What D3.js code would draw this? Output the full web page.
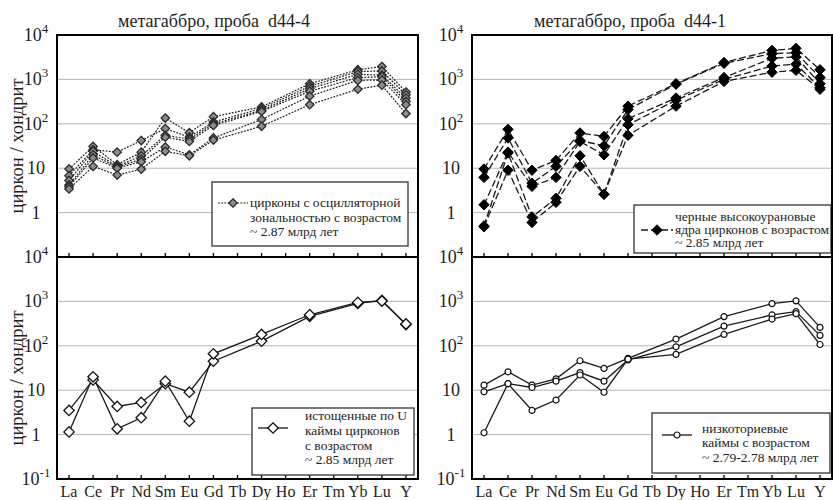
<!DOCTYPE html>
<html>
<head>
<meta charset="utf-8">
<script src="https://cdn.jsdelivr.net/npm/d3@7"></script>
<style>
  body { margin: 0; background: #fff; }
</style>
</head>
<body>
<div id="chart"></div>
<script>
// REE spectra of zircon, normalised to chondrite
var elements = ["La", "Ce", "Pr", "Nd", "Sm", "Eu", "Gd", "Tb", "Dy", "Ho", "Er", "Tm", "Yb", "Lu", "Y"];

// null = not analysed (Tb, Ho, Tm)
var oscillatory = [
  [9.6, 31, 12, 23, 135, 63, 145, null, 240, null, 800, null, 1650, 1950, 520],
  [6.8, 26, 23, 42, 78, 50, 110, null, 220, null, 700, null, 1500, 1550, 450],
  [5.3, 24, 11, 19, 55, 45, 100, null, 200, null, 620, null, 1300, 1250, 380],
  [4.2, 20, 10.5, 16, 50, 40, 92, null, 190, null, 540, null, 1100, 1150, 320],
  [3.8, 17, 10, 14, 30, 20, 48, null, 125, null, 420, null, 950, 970, 270],
  [3.4, 11, 7, 9.5, 24, 19, 43, null, 88, null, 270, null, 600, 740, 170]
];

var highUCores = [
  [9.6, 75, 9, 15, 62, 52, 250, null, 800, null, 2400, null, 4500, 5000, 1650],
  [6.2, 48, 4.6, 11, 42, 32, 210, null, 780, null, 2300, null, 3800, 4000, 1100],
  [1.5, 23, 3.9, 6.2, 40, 20, 130, null, 380, null, 1100, null, 3000, 3200, 800],
  [0.5, 22, 0.8, 2.1, 19, 2.6, 95, null, 340, null, 1000, null, 2000, 2200, 650],
  [0.48, 9, 0.6, 1.7, 11, 2.6, 55, null, 250, null, 900, null, 1450, 1600, 600]
];

var depletedRims = [
  [3.5, 17, 4.3, 5.3, 14, 9, 45, null, 127, null, 460, null, 900, 1050, 300],
  [1.15, 20, 1.35, 2.4, 16, 2, 66, null, 180, null, 500, null, 950, 1020, 310]
];

var lowThRims = [
  [13, 26, 13, 18, 46, 31, 52, null, 142, null, 455, null, 890, 1030, 260],
  [9.2, 14, 11.5, 16, 25, 16, 48, null, 95, null, 278, null, 495, 590, 172],
  [1.1, 14, 3.5, 6, 22, 9, 50, null, 64, null, 180, null, 400, 530, 107]
];

var yTicks = [1e4, 1e3, 1e2, 10, 1, 0.1];
var gridValues = [1e3, 1e2, 10, 1];

var width = 833, height = 500;

var svg = d3.select("#chart").append("svg")
  .attr("width", width)
  .attr("height", height);

// every text gets the serif face set on itself
function addText(parent, size) {
  return parent.append("text")
    .style("font-family", "'Liberation Serif'")
    .style("font-size", size + "px")
    .style("fill", "#1e1e1e");
}

var panels = [
  { x0: 57, x1: 418, y0: 35, y1: 257, data: oscillatory, kind: "oscill",
    title: "метагаббро, проба  d44-4", titleX: 214, yTitle: true, bottomLabels: false, showLowest: false,
    legend: { box: [212, 182, 408, 246], sx: [218, 248], sy: 203, tx: 250, ty: [207, 222, 236],
      lines: ["цирконы с осцилляторной", "зональностью с возрастом", "~ 2.87 млрд лет"] } },
  { x0: 472, x1: 832, y0: 35, y1: 257, data: highUCores, kind: "cores",
    title: "метагаббро, проба  d44-1", titleX: 630, yTitle: false, bottomLabels: false, showLowest: false,
    legend: { box: [634, 205, 831, 253], sx: [641, 673], sy: 230, tx: 675, ty: [221, 234, 247],
      lines: ["черные высокоурановые", "ядра цирконов с возрастом", "~ 2.85 млрд лет"] } },
  { x0: 57, x1: 418, y0: 257, y1: 479, data: depletedRims, kind: "depleted",
    yTitle: true, bottomLabels: true, showLowest: true,
    legend: { box: [252, 408, 414, 475], sx: [258, 288], sy: 428, tx: 305, ty: [420, 435, 450, 464],
      lines: ["истощенные по U", "каймы цирконов", "с возрастом", "~ 2.85 млрд лет"] } },
  { x0: 472, x1: 832, y0: 257, y1: 479, data: lowThRims, kind: "lowTh",
    yTitle: false, bottomLabels: true, showLowest: true,
    legend: { box: [652, 413, 830, 473], sx: [662, 692], sy: 435, tx: 702, ty: [433, 447, 462],
      lines: ["низкоториевые", "каймы с возрастом", "~ 2.79-2.78 млрд лет"] } }
];

function diamond(s) {
  return "M0," + (-s) + "L" + s + ",0L0," + s + "L" + (-s) + ",0Z";
}

// draw one marker of given kind into a selection
function addMarker(sel, kind) {
  if (kind === "lowTh") {
    sel.append("circle").attr("r", 3).attr("fill", "#fff").attr("stroke", "#111").attr("stroke-width", 1.2);
  } else if (kind === "oscill") {
    sel.append("path").attr("d", diamond(4.2)).attr("fill", "#8c8c8c").attr("stroke", "#2a2a2a").attr("stroke-width", 1.3);
  } else if (kind === "cores") {
    sel.append("path").attr("d", diamond(5.2)).attr("fill", "#000").attr("stroke", "#000").attr("stroke-width", 1);
  } else {
    sel.append("path").attr("d", diamond(5.2)).attr("fill", "#fff").attr("stroke", "#111").attr("stroke-width", 1.3);
  }
}

function lineStyle(sel, kind) {
  sel.attr("fill", "none").attr("stroke", "#1a1a1a")
    .attr("stroke-width", kind === "oscill" ? 1.2 : 1.3)
    .attr("stroke-dasharray", kind === "oscill" ? "1.8,1.4" : kind === "cores" ? "7,3" : null);
}

panels.forEach(function(p) {
  var x = d3.scalePoint().domain(elements).range([p.x0, p.x1]).padding(0.5);
  var y = d3.scaleLog().domain([0.1, 1e4]).range([p.y1, p.y0]);
  var g = svg.append("g");

  // gridlines
  g.selectAll(".grid").data(gridValues).enter().append("line")
    .attr("x1", p.x0).attr("x2", p.x1)
    .attr("y1", function(d) { return y(d); }).attr("y2", function(d) { return y(d); })
    .attr("stroke", "#b4b4b4").attr("stroke-width", 1);

  // inner ticks along bottom
  g.selectAll(".tick").data(elements).enter().append("line")
    .attr("x1", function(d) { return x(d); }).attr("x2", function(d) { return x(d); })
    .attr("y1", p.y1).attr("y2", p.y1 - 4)
    .attr("stroke", "#000").attr("stroke-width", 1.3);

  // y tick labels with superscripts
  var labs = yTicks.filter(function(v) { return p.showLowest || v > 0.1; });
  labs.forEach(function(v) {
    var e = Math.round(Math.log10(v));
    var t = addText(g, 18)
      .attr("x", p.x0 - 21).attr("y", y(v) + 6)
      .attr("text-anchor", "middle");
    if (e === 0) { t.text("1"); }
    else if (e === 1) { t.text("10"); }
    else {
      t.append("tspan").text("10");
      t.append("tspan").attr("dy", -8).style("font-size", "13px").text(e);
    }
  });

  // series lines (gaps skipped, points joined directly)
  p.data.forEach(function(vals) {
    var pts = elements.map(function(el, i) { return { el: el, v: vals[i] }; })
      .filter(function(d) { return d.v != null; });
    var line = d3.line().x(function(d) { return x(d.el); }).y(function(d) { return y(d.v); });
    g.append("path").datum(pts).attr("d", line).call(lineStyle, p.kind);
  });
  p.data.forEach(function(vals) {
    var pts = elements.map(function(el, i) { return { el: el, v: vals[i] }; })
      .filter(function(d) { return d.v != null; });
    var m = g.selectAll(null).data(pts).enter().append("g")
      .attr("transform", function(d) { return "translate(" + x(d.el) + "," + y(d.v) + ")"; });
    addMarker(m, p.kind);
  });

  // legend
  var L = p.legend;
  g.append("rect")
    .attr("x", L.box[0]).attr("y", L.box[1])
    .attr("width", L.box[2] - L.box[0]).attr("height", L.box[3] - L.box[1])
    .attr("fill", "#fff").attr("stroke", "#333").attr("stroke-width", 1.3);
  g.append("line").attr("x1", L.sx[0]).attr("x2", L.sx[1]).attr("y1", L.sy).attr("y2", L.sy)
    .call(lineStyle, p.kind);
  addMarker(g.append("g").attr("transform", "translate(" + ((L.sx[0] + L.sx[1]) / 2) + "," + L.sy + ")"), p.kind);
  L.lines.forEach(function(s, i) {
    addText(g, 13.5).attr("x", L.tx).attr("y", L.ty[i]).text(s);
  });

  // frame
  g.append("rect")
    .attr("x", p.x0).attr("y", p.y0)
    .attr("width", p.x1 - p.x0).attr("height", p.y1 - p.y0)
    .attr("fill", "none").attr("stroke", "#000").attr("stroke-width", 2);

  if (p.title) {
    addText(svg, 18).attr("x", p.titleX).attr("y", 27)
      .attr("text-anchor", "middle").style("white-space", "pre")
      .text(p.title);
  }
  if (p.yTitle) {
    var cy = (p.y0 + p.y1) / 2 + (p.showLowest ? 10 : 0);
    addText(svg, 18.5)
      .attr("transform", "translate(17," + cy + ") rotate(-90)")
      .attr("text-anchor", "middle").attr("dy", "0.35em")
      .text("циркон / хондрит");
  }
  if (p.bottomLabels) {
    elements.forEach(function(el) {
      addText(svg, 16).attr("x", x(el)).attr("y", 497)
        .attr("text-anchor", "middle").text(el);
    });
  }
});
</script>
</body>
</html>
